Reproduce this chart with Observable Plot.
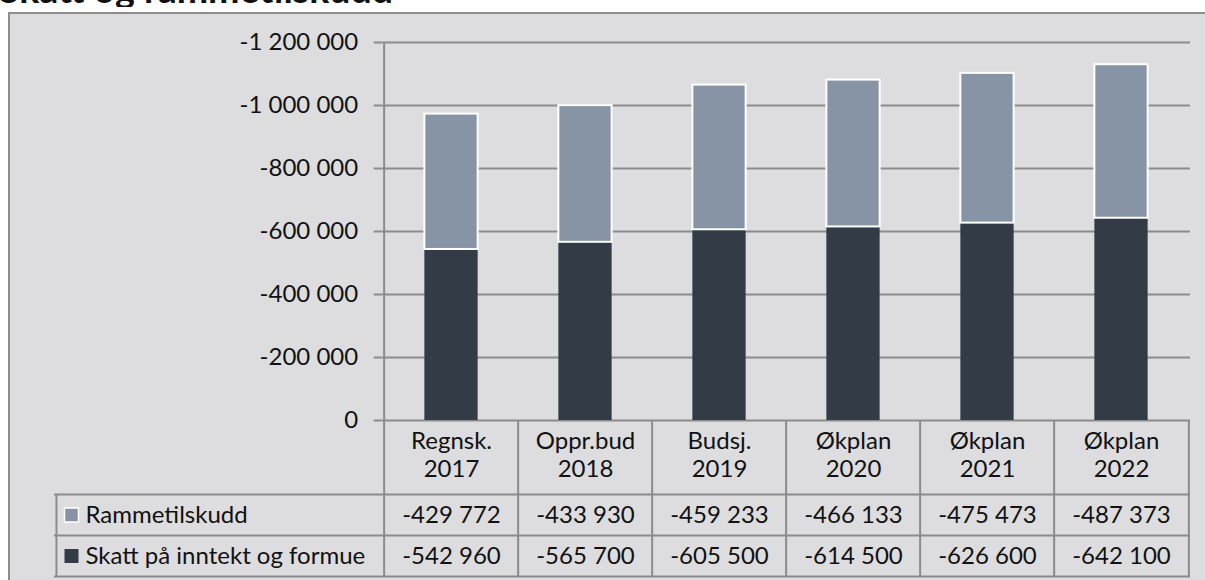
<!DOCTYPE html>
<html>
<head>
<meta charset="utf-8">
<script src="https://cdn.jsdelivr.net/npm/d3@7"></script>
<script src="https://cdn.jsdelivr.net/npm/@observablehq/plot@0.6"></script>
<style>
  html, body { margin: 0; padding: 0; background: #ffffff; width: 1205px; height: 580px; overflow: hidden; }
  #title { position: absolute; left: 0; top: 0; width: 700px; height: 7px; overflow: hidden; }
  #title span { position: absolute; left: -1px; top: -30px; font: bold 37.5px Lato, sans-serif; line-height: 37.5px; color: #111; white-space: nowrap; }
  #frame { position: absolute; left: 8px; top: 12px; width: 1300px; height: 700px; background: #dddddf; border-left: 2px solid #8e8e8e; border-top: 2px solid #8e8e8e; }
  #chart { position: absolute; left: 0; top: 0; }
</style>
</head>
<body>
<div id="title"><span>Skatt og rammetilskudd</span></div>
<div id="frame"></div>
<div id="chart"></div>
<script>
// ---- data ----
const categories = ["Regnsk.\n2017", "Oppr.bud\n2018", "Budsj.\n2019", "Økplan\n2020", "Økplan\n2021", "Økplan\n2022"];
const seriesNames = ["Skatt på inntekt og formue", "Rammetilskudd"];
const skatt = [-542960, -565700, -605500, -614500, -626600, -642100];
const rammetilskudd = [-429772, -433930, -459233, -466133, -475473, -487373];
const yTicks = [0, -200000, -400000, -600000, -800000, -1000000, -1200000];
const seriesColors = ["#333c46", "#8794a6"];

const data = [
  ...categories.map((c, i) => ({category: c, series: seriesNames[0], value: skatt[i]})),
  ...categories.map((c, i) => ({category: c, series: seriesNames[1], value: rammetilskudd[i]}))
];

const fmt = d3.formatLocale({decimal: ",", thousands: " ", grouping: [3], currency: ["", ""], minus: "-"}).format(",");

// ---- layout ----
const W = 1205, H = 580;
const mL = 381.7, mR = 15, mT = 42, mB = 160;
const step = (W - mL - mR) / categories.length;
const barW = 54;
const inset = (step - barW) / 2;
const lineColor = "#8b8b8b";
const textColor = "#111111";
const rowLine1 = 74, rowLine2 = 115, rowLine3 = 156;
const row1 = 94.5, row2 = 135.5;
const tableLeft = 54;

const zero = () => 0;
const lineStyle = {stroke: lineColor, strokeWidth: 2};

const chart = Plot.plot({
  width: W, height: H,
  marginLeft: mL, marginRight: mR, marginTop: mT, marginBottom: mB,
  style: {fontFamily: "Lato, sans-serif", fontSize: "24px", color: textColor, background: "transparent"},
  x: {domain: categories, padding: 0, axis: null},
  y: {domain: [0, -1200000], axis: null},
  color: {domain: seriesNames, range: seriesColors},
  marks: [
    Plot.gridY(yTicks, {stroke: lineColor, strokeOpacity: 1, strokeWidth: 2}),
    Plot.axisY(yTicks, {label: null, tickSize: 8, tickPadding: 16, stroke: lineColor, strokeWidth: 2, fill: textColor, fontSize: 24, tickFormat: fmt}),
    Plot.barY(data, {x: "category", y: "value", fill: "series", stroke: "white",
      strokeWidth: d => d.series === "Rammetilskudd" ? 2 : 0,
      insetLeft: inset, insetRight: inset}),
    // y axis line continued into table
    Plot.ruleX([categories[0]], {x: d => d, y1: () => -1200000, y2: zero, dx: -step / 2, insetBottom: -rowLine3, ...lineStyle}),
    // column separators in table
    Plot.ruleX(categories.slice(1), {x: d => d, y1: zero, y2: zero, dx: -step / 2, insetBottom: -rowLine3, ...lineStyle}),
    Plot.ruleX([categories[categories.length - 1]], {x: d => d, y1: zero, y2: zero, dx: step / 2, insetBottom: -rowLine3, ...lineStyle}),
    // table left border
    Plot.ruleX([categories[0]], {x: d => d, y1: zero, y2: zero, dx: -step / 2 - (mL - tableLeft), insetTop: rowLine1, insetBottom: -rowLine3, ...lineStyle}),
    // horizontal table lines
    Plot.ruleY([0], {dy: rowLine1, insetLeft: tableLeft - mL, ...lineStyle}),
    Plot.ruleY([0], {dy: rowLine2, insetLeft: tableLeft - mL, ...lineStyle}),
    Plot.ruleY([0], {dy: rowLine3, insetLeft: tableLeft - mL, ...lineStyle}),
    // header labels
    Plot.text(categories, {x: d => d, y: zero, dy: 34, text: d => d, lineHeight: 28 / 24, lineAnchor: "middle", fill: textColor, fontSize: 24}),
    // values
    Plot.text(data.filter(d => d.series === seriesNames[1]), {x: "category", y: zero, dy: row1, text: d => fmt(d.value), fill: textColor, fontSize: 24}),
    Plot.text(data.filter(d => d.series === seriesNames[0]), {x: "category", y: zero, dy: row2, text: d => fmt(d.value), fill: textColor, fontSize: 24}),
    // row labels
    Plot.text([seriesNames[1]], {frameAnchor: "left", y: zero, dy: row1, dx: 85 - mL, textAnchor: "start", text: d => d, fill: textColor, fontSize: 24}),
    Plot.text([seriesNames[0]], {frameAnchor: "left", y: zero, dy: row2, dx: 85 - mL, textAnchor: "start", text: d => d, fill: textColor, fontSize: 24}),
    // legend keys
    Plot.dot([seriesNames[1]], {frameAnchor: "left", y: zero, dy: row1, dx: 71 - mL, symbol: "square", r: 7.9, fill: seriesColors[1], stroke: "white", strokeWidth: 1.5}),
    Plot.dot([seriesNames[0]], {frameAnchor: "left", y: zero, dy: row2, dx: 71 - mL, symbol: "square", r: 7.9, fill: seriesColors[0]})
  ]
});
document.getElementById("chart").appendChild(chart);
</script>
</body>
</html>
